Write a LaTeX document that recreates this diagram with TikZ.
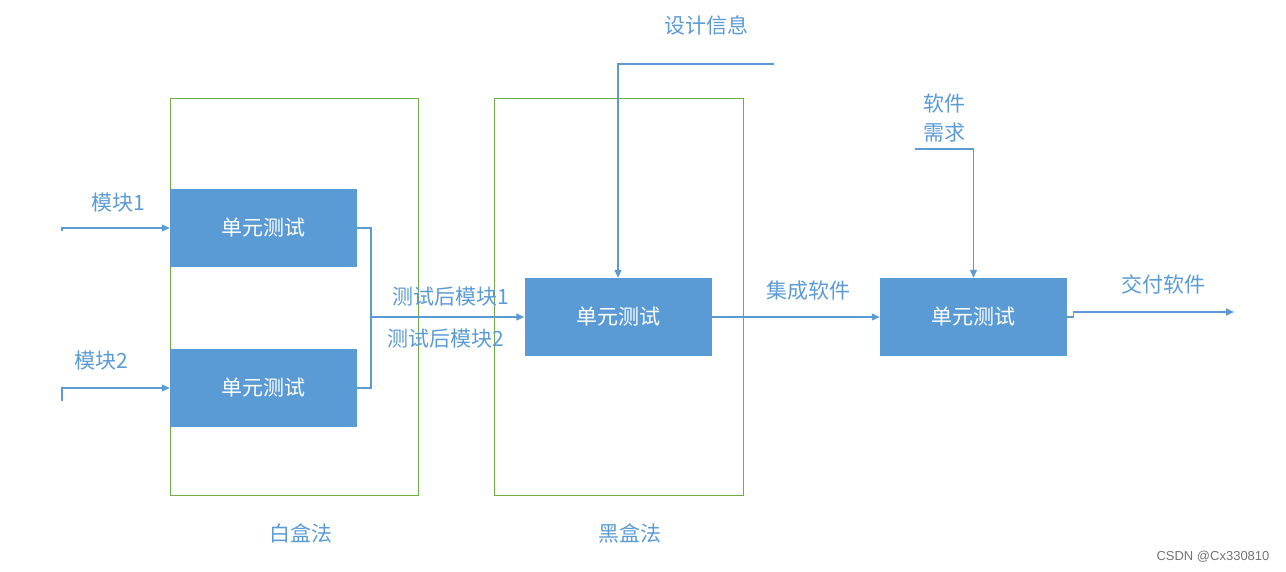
\documentclass[tikz,border=0pt]{standalone}
\usepackage{fontspec}
\setmainfont{Noto Sans CJK SC}
\usetikzlibrary{arrows.meta}
\definecolor{bbox}{HTML}{5B9BD5}
\definecolor{bline}{HTML}{5B9BD5}
\definecolor{gline}{HTML}{70AD47}
\begin{document}
\begin{tikzpicture}[x=1pt,y=-1pt,
  unitbox/.style={fill=bbox,draw=none,minimum width=187pt,minimum height=78pt,inner sep=0pt,text=white,font=\fontsize{21}{24}\selectfont},
  group/.style={draw=gline,line width=1pt},
  lbl/.style={text=bline,font=\fontsize{21}{26}\selectfont,inner sep=0pt},
  conn/.style={draw=bline,line width=1.2pt},
  arr/.style={conn,-{Triangle[length=8pt,width=7pt]}}]
\useasboundingbox (0,0) rectangle (1286,572);
% groups
\draw[group] (170,99) rectangle (418,495);
\draw[group] (494,99) rectangle (743,495);
% boxes
\node[unitbox] (a1) at (263.5,228) {单元测试};
\node[unitbox] (a2) at (263.5,388) {单元测试};
\node[unitbox] (b) at (618,317) {单元测试};
\node[unitbox] (c) at (973.5,317) {单元测试};
% coordinates
\coordinate (in1) at (62,231);
\coordinate (in2) at (62,401);
\coordinate (join) at (371,317);
\coordinate (dstart) at (774,64);
\coordinate (rstart) at (915,149);
\coordinate (out) at (1234,312);
% inputs
\draw[arr] (in1) |- (a1.west);
\draw[arr] (in2) |- (a2.west);
\node[lbl] (m1) at (118,203) {模块1};
\node[lbl] (m2) at (101,361) {模块2};
% bracket
\draw[conn] (a1.east) -| (join) |- (a2.east);
\draw[arr] (join) -- (b.west);
\node[lbl] (t1) at (451,297) {测试后模块1};
\node[lbl] (t2) at (446,339) {测试后模块2};
% design info
\node[lbl] (d) at (706,25) {设计信息};
\draw[arr] (dstart) -| (b.north);
% integration
\draw[arr] (b.east) -- (c.west);
\node[lbl] (ji) at (808,291) {集成软件};
% requirements
\node[lbl,align=center,font=\fontsize{21}{29}\selectfont] (req) at (944,118) {软件\\需求};
\draw[arr] (rstart) -| (c.north);
% output
\draw[arr] (c.east) -- ++(6,0) |- (out);
\node[lbl] (del) at (1163,284) {交付软件};
% group labels
\node[lbl] (wb) at (301,533) {白盒法};
\node[lbl] (bb) at (630,533) {黑盒法};
% watermark
\node[text=black!55,font=\fontsize{13}{15}\selectfont\fontspec{Liberation Sans},inner sep=0pt] (wm) at (1213,557) {CSDN @Cx330810};
\end{tikzpicture}
\end{document}
